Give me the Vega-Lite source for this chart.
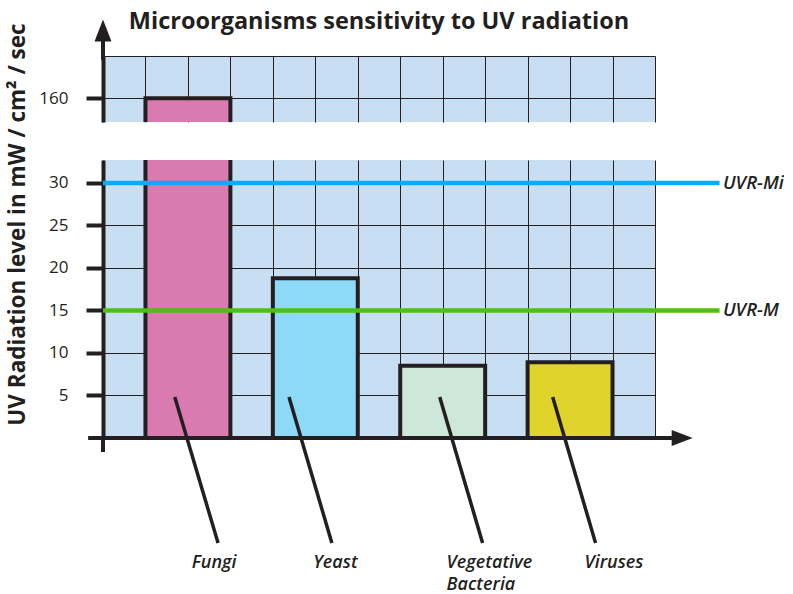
{
  "$schema": "https://vega.github.io/schema/vega-lite/v6.json",
  "padding": {"left": 5, "top": 10, "right": 0, "bottom": 0},
  "background": "white",
  "title": {"text": "Microorganisms sensitivity to UV radiation", "fontSize": 23.5, "fontWeight": "bold", "color": "#231f20", "anchor": "middle", "frame": "group", "offset": -14},
  "datasets": {
    "bars": [
      {"organism": "Fungi", "value": 160},
      {"organism": "Yeast", "value": 18.8},
      {"organism": "Vegetative Bacteria", "value": 8.5},
      {"organism": "Viruses", "value": 8.9}
    ],
    "thresholds": [
      {"name": "UVR-Mi", "value": 30},
      {"name": "UVR-M", "value": 15}
    ],
    "leaders": [
      {"organism": "Fungi", "x": 1.69, "y": 4.82, "x2": 2.71, "y2": -12.35},
      {"organism": "Yeast", "x": 4.38, "y": 4.82, "x2": 5.39, "y2": -12.35},
      {"organism": "Vegetative Bacteria", "x": 7.93, "y": 4.82, "x2": 8.94, "y2": -12.35},
      {"organism": "Viruses", "x": 10.59, "y": 4.82, "x2": 11.6, "y2": -12.35}
    ],
    "labels": [
      {"line": ["Fungi"], "x": 2.09, "y": -13.6},
      {"line": ["Yeast"], "x": 4.95, "y": -13.6},
      {"line": ["Vegetative", "Bacteria"], "x": 8.09, "y": -13.6},
      {"line": ["Viruses"], "x": 11.34, "y": -13.6}
    ],
    "axisParts": [
      {"part": "axis"}
    ]
  },
  "bounds": "flush",
  "spacing": 38,
  "vconcat": [
    {
      "width": 552,
      "height": 66,
      "layer": [
        {
          "data": {"name": "bars"},
          "transform": [{"filter": "datum.value > 157"}],
          "mark": {"type": "bar", "clip": true, "stroke": "#231f20", "strokeWidth": 4},
          "encoding": {
            "x": {"field": "organism", "type": "nominal", "sort": null, "axis": null,
                  "scale": {"domain": ["Fungi", "Yeast", "Vegetative Bacteria", "Viruses"], "paddingInner": 0.3333, "paddingOuter": 0.3333}},
            "y": {"field": "value", "type": "quantitative",
                  "scale": {"domain": [157.2, 165], "nice": false, "zero": false},
                  "axis": {"values": [160, 165], "grid": true, "domain": true, "domainColor": "#231f20", "domainWidth": 4,
                           "ticks": true, "tickSize": 17, "tickWidth": 4,
                           "tickColor": {"condition": {"test": "datum.value > 162", "value": "transparent"}, "value": "#231f20"},
                           "labelExpr": "datum.value > 162 ? '' : datum.label",
                           "labelFontSize": 17, "labelColor": "#231f20", "labelPadding": 18, "title": null}},
            "fill": {"field": "organism", "type": "nominal",
                     "scale": {"domain": ["Fungi", "Yeast", "Vegetative Bacteria", "Viruses"], "range": ["#d97ab0", "#8ed8f8", "#cde8d8", "#e0d42c"]},
                     "legend": null}
          }
        },
        {
          "data": {"name": "axisParts"},
          "layer": [
            {
              "mark": {"type": "rule", "strokeWidth": 4, "color": "#231f20"},
              "encoding": {
                "x": {"datum": 0, "type": "quantitative", "scale": {"domain": [0, 13], "nice": false, "zero": false},
                      "axis": {"orient": "bottom", "values": [0,1,2,3,4,5,6,7,8,9,10,11,12,13], "grid": true, "labels": false, "ticks": false, "domain": false, "title": null}},
                "y": {"datum": 164.5},
                "y2": {"datum": 167.5}
              }
            },
            {
              "mark": {"type": "point", "shape": "M0,-1L-0.77,1L0.77,1Z", "size": 484, "filled": true, "color": "#231f20", "opacity": 1},
              "encoding": {
                "x": {"datum": 0, "type": "quantitative"},
                "y": {"datum": 168}
              }
            }
          ]
        }
      ],
      "resolve": {"scale": {"x": "independent"}}
    },
    {
      "width": 552,
      "height": 278,
      "layer": [
        {
          "data": {"name": "bars"},
          "mark": {"type": "bar", "clip": true, "stroke": "#231f20", "strokeWidth": 4},
          "encoding": {
            "x": {"field": "organism", "type": "nominal", "sort": null, "axis": null,
                  "scale": {"domain": ["Fungi", "Yeast", "Vegetative Bacteria", "Viruses"], "paddingInner": 0.3333, "paddingOuter": 0.3333}},
            "y": {"field": "value", "type": "quantitative",
                  "scale": {"domain": [0, 32.7], "nice": false},
                  "axis": {"values": [5, 10, 15, 20, 25, 30], "grid": true, "domain": true, "domainColor": "#231f20", "domainWidth": 4,
                           "ticks": true, "tickSize": 17, "tickWidth": 4, "tickColor": "#231f20",
                           "labelFontSize": 17, "labelColor": "#231f20", "labelPadding": 18,
                           "title": "UV Radiation level in  mW / cm² / sec", "titleFontSize": 22.5, "titleFontWeight": "bold", "titleColor": "#231f20",
                           "titleX": -86, "titleY": 64, "titleAngle": -90, "titleAlign": "center", "titleBaseline": "middle"}},
            "fill": {"field": "organism", "type": "nominal",
                     "scale": {"domain": ["Fungi", "Yeast", "Vegetative Bacteria", "Viruses"], "range": ["#d97ab0", "#8ed8f8", "#cde8d8", "#e0d42c"]},
                     "legend": null}
          }
        },
        {
          "layer": [
            {
              "data": {"name": "axisParts"},
              "mark": {"type": "rule", "strokeWidth": 4, "color": "#231f20"},
              "encoding": {
                "x": {"datum": 0, "type": "quantitative", "scale": {"domain": [0, 13], "nice": false, "zero": false},
                      "axis": {"orient": "bottom", "values": [0,1,2,3,4,5,6,7,8,9,10,11,12,13], "grid": true, "labels": false, "ticks": false, "domain": false, "title": null}},
                "y": {"datum": 0},
                "y2": {"datum": -1.65}
              }
            },
            {
              "data": {"name": "axisParts"},
              "mark": {"type": "rule", "strokeWidth": 4, "color": "#231f20"},
              "encoding": {
                "x": {"datum": -0.35, "type": "quantitative"},
                "x2": {"datum": 13.45},
                "y": {"datum": 0}
              }
            },
            {
              "data": {"name": "axisParts"},
              "mark": {"type": "point", "shape": "M1,0L-1,-0.76L-1,0.76Z", "size": 441, "filled": true, "color": "#231f20", "opacity": 1},
              "encoding": {
                "x": {"datum": 13.64, "type": "quantitative"},
                "y": {"datum": 0}
              }
            },
            {
              "data": {"name": "thresholds"},
              "mark": {"type": "rule", "strokeWidth": 4.5},
              "encoding": {
                "x": {"datum": 0, "type": "quantitative"},
                "x2": {"datum": 14.52},
                "y": {"field": "value", "type": "quantitative"},
                "color": {"field": "name", "type": "nominal", "scale": {"domain": ["UVR-Mi", "UVR-M"], "range": ["#0aacf5", "#4cc10f"]}, "legend": null}
              }
            },
            {
              "data": {"name": "thresholds"},
              "mark": {"type": "text", "align": "left", "baseline": "middle", "fontSize": 18.5, "fontStyle": "italic", "fontWeight": 600, "color": "#231f20"},
              "encoding": {
                "x": {"datum": 14.6, "type": "quantitative"},
                "y": {"field": "value", "type": "quantitative"},
                "text": {"field": "name"}
              }
            },
            {
              "data": {"name": "leaders"},
              "mark": {"type": "rule", "strokeWidth": 3.5, "color": "#231f20"},
              "encoding": {
                "x": {"field": "x", "type": "quantitative"},
                "y": {"field": "y", "type": "quantitative"},
                "x2": {"field": "x2"},
                "y2": {"field": "y2"}
              }
            },
            {
              "data": {"name": "labels"},
              "mark": {"type": "text", "align": "left", "baseline": "top", "lineHeight": 22, "fontSize": 18, "fontStyle": "italic", "fontWeight": 600, "color": "#231f20"},
              "encoding": {
                "x": {"field": "x", "type": "quantitative"},
                "y": {"field": "y", "type": "quantitative"},
                "text": {"field": "line"}
              }
            }
          ]
        }
      ],
      "resolve": {"scale": {"x": "independent"}}
    }
  ],
  "config": {
    "font": "Open Sans",
    "view": {"fill": "#c8dff3", "stroke": null},
    "axis": {"gridColor": "#231f20", "gridWidth": 1, "gridOpacity": 1, "labelFont": "Open Sans", "titleFont": "Open Sans"},
    "title": {"font": "Open Sans"},
    "text": {"font": "Open Sans"}
  }
}
